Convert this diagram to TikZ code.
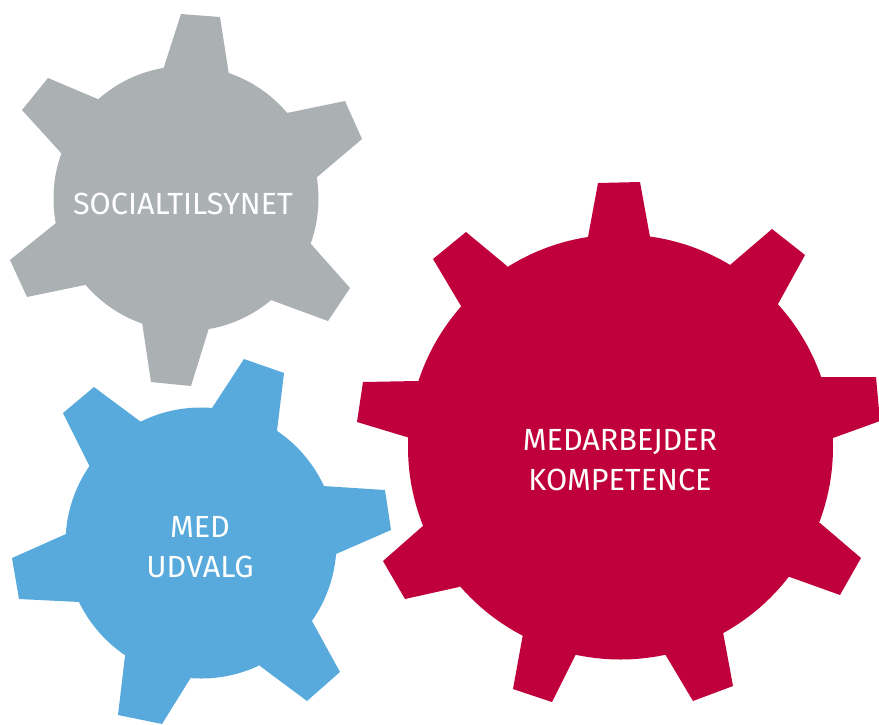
\documentclass[tikz,border=0pt]{standalone}
\usepackage{fontspec}
\setmainfont{Fira Sans}
\definecolor{gearGrey}{HTML}{ABB0B3}
\definecolor{gearBlue}{HTML}{58A9DC}
\definecolor{gearRed}{HTML}{C0003C}
\tikzset{
    label/.style={text=white,font=\fontsize{30.6}{40}\selectfont,align=center,inner sep=0pt},
}
% tooth given by its four corners, closed over the centre of the gear
\newcommand{\gearTooth}[4]{\fill #1 -- #2 -- #3 -- #4 -- (hub) -- cycle;}

\begin{document}
\begin{tikzpicture}[x=1pt,y=-1pt]
    \useasboundingbox (0,0) rectangle (879,724);
    % socialtilsynet
    \begin{scope}[gearGrey]
        \coordinate (hub) at (186,198.5);
        \fill (hub) circle[radius=132.5];
        \gearTooth{(163,70)}{(181,14)}{(220,17)}{(229,75)}
        \gearTooth{(287,113)}{(345,101)}{(362,139)}{(316,178)}
        \gearTooth{(311,244)}{(350,288)}{(328,321)}{(271,300)}
        \gearTooth{(209,328)}{(191,386)}{(151,382)}{(142,322)}
        \gearTooth{(85,285)}{(27,297)}{(10,260)}{(56,223)}
        \gearTooth{(62,154)}{(22,110)}{(48,78)}{(100,100)}
    \end{scope}
    % med udvalg
    \begin{scope}[gearBlue]
        \coordinate (hub) at (201,543);
        \fill (hub) circle[radius=135.5];
        \gearTooth{(212,408)}{(244,359)}{(284,373)}{(277,431)}
        \gearTooth{(323,486)}{(385,490)}{(391,530)}{(336,554)}
        \gearTooth{(312,621)}{(340,672)}{(307,701)}{(260,666)}
        \gearTooth{(190,679)}{(162,724)}{(118,715)}{(125,656)}
        \gearTooth{(79,602)}{(19,599)}{(12,558)}{(66,534)}
        \gearTooth{(90,467)}{(63,413)}{(94,387)}{(141,422)}
    \end{scope}
    % medarbejder kompetence
    \begin{scope}[gearRed]
        \coordinate (hub) at (620.5,447);
        \fill (hub) circle[radius=212.5];
        \gearTooth{(588,237)}{(598,183)}{(640,182)}{(650,237)}
        \gearTooth{(730,265)}{(772,229)}{(805,255)}{(778,304)}
        \gearTooth{(822,377)}{(876,377)}{(880,421)}{(833,438)}
        \gearTooth{(820,523)}{(861,558)}{(840,595)}{(787,576)}
        \gearTooth{(723,632)}{(733,686)}{(693,701)}{(665,654)}
        \gearTooth{(576,654)}{(552,702)}{(513,689)}{(523,634)}
        \gearTooth{(459,587)}{(405,599)}{(383,561)}{(424,525)}
        \gearTooth{(417,381)}{(363,382)}{(357,422)}{(410,438)}
        \gearTooth{(461,306)}{(433,259)}{(466,232)}{(507,266)}
    \end{scope}
    % labels
    \node[label] (social) at (183,204) {SOCIALTILSYNET};
    \node[label] (medudvalg) at (200,547) {MED\\UDVALG};
    \node[label] (kompetence) at (620,460) {MEDARBEJDER\\KOMPETENCE};
\end{tikzpicture}
\end{document}
